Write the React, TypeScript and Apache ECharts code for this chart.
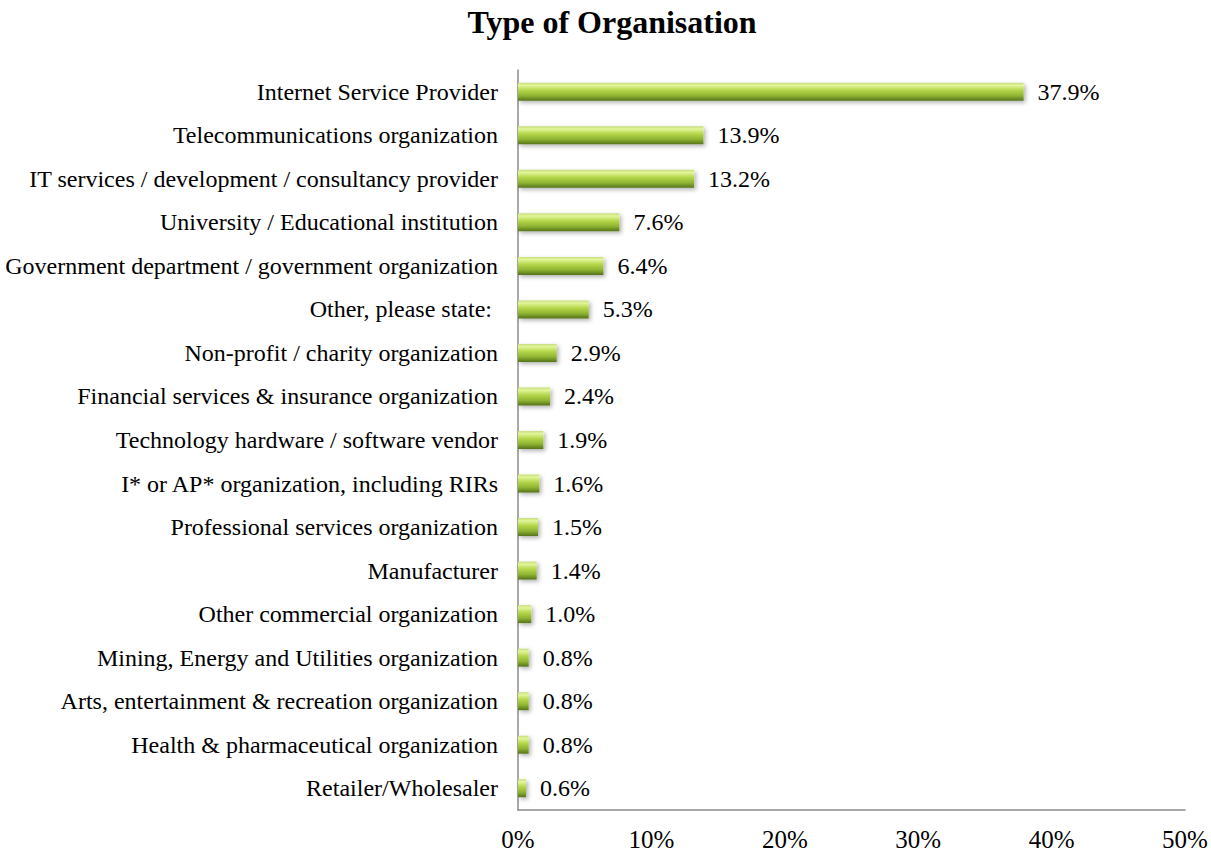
import React, { useEffect, useRef } from "react";
import * as echarts from "echarts";

const categories = [
  "Internet Service Provider",
  "Telecommunications organization",
  "IT services / development / consultancy provider",
  "University / Educational institution",
  "Government department / government organization",
  "Other, please state: ",
  "Non-profit / charity organization",
  "Financial services & insurance organization",
  "Technology hardware / software vendor",
  "I* or AP* organization, including RIRs",
  "Professional services organization",
  "Manufacturer",
  "Other commercial organization",
  "Mining, Energy and Utilities organization",
  "Arts, entertainment & recreation organization",
  "Health & pharmaceutical organization",
  "Retailer/Wholesaler",
];
const values = [37.9, 13.9, 13.2, 7.6, 6.4, 5.3, 2.9, 2.4, 1.9, 1.6, 1.5, 1.4, 1.0, 0.8, 0.8, 0.8, 0.6];
const xTicks = [0, 10, 20, 30, 40, 50];

const FONT = "'Liberation Serif', 'Times New Roman', serif";

export default function App() {
  const ref = useRef<HTMLDivElement>(null);
  useEffect(() => {
    const chart = echarts.init(ref.current!, null, { renderer: "svg" });
    chart.setOption({
      animation: false,
      graphic: [
        {
          type: "text",
          x: 612,
          y: 22,
          style: {
            text: "Type of Organisation",
            font: `bold 32px ${FONT}`,
            fill: "#000",
            textAlign: "center",
            textVerticalAlign: "middle",
          },
        },
      ],
      grid: { left: 518, right: 26, top: 70, bottom: 44, containLabel: false },
      xAxis: {
        type: "value",
        min: xTicks[0],
        max: xTicks[xTicks.length - 1],
        interval: 10,
        axisLine: { show: true, lineStyle: { color: "#8c8c8c", width: 1.5 } },
        axisTick: { show: false },
        splitLine: { show: false },
        axisLabel: {
          formatter: "{value}%",
          fontFamily: FONT,
          fontSize: 25,
          color: "#000",
          margin: 17,
        },
      },
      yAxis: {
        type: "category",
        data: categories,
        inverse: true,
        axisLine: { show: true, lineStyle: { color: "#8c8c8c", width: 1.5 } },
        axisTick: { show: false },
        axisLabel: {
          fontFamily: FONT,
          fontSize: 24,
          color: "#000",
          margin: 20,
        },
      },
      series: [
        {
          type: "bar",
          data: values,
          barWidth: 18,
          itemStyle: {
            color: new echarts.graphic.LinearGradient(0, 0, 0, 1, [
              { offset: 0, color: "#c6de7c" },
              { offset: 0.15, color: "#e2f59a" },
              { offset: 0.42, color: "#b4d64a" },
              { offset: 0.72, color: "#8fb432" },
              { offset: 1, color: "#55731a" },
            ]),
            shadowColor: "rgba(0,0,0,0.3)",
            shadowBlur: 4,
            shadowOffsetX: 2,
            shadowOffsetY: 2,
          },
          label: {
            show: true,
            position: "right",
            distance: 14,
            formatter: (p: any) => p.value.toFixed(1) + "%",
            fontFamily: FONT,
            fontSize: 24,
            color: "#000",
          },
        },
      ],
    });
    return () => chart.dispose();
  }, []);
  return (
    <div
      ref={ref}
      style={{ position: "absolute", left: 0, top: 0, width: 1211, height: 854, background: "#fff" }}
    />
  );
}
